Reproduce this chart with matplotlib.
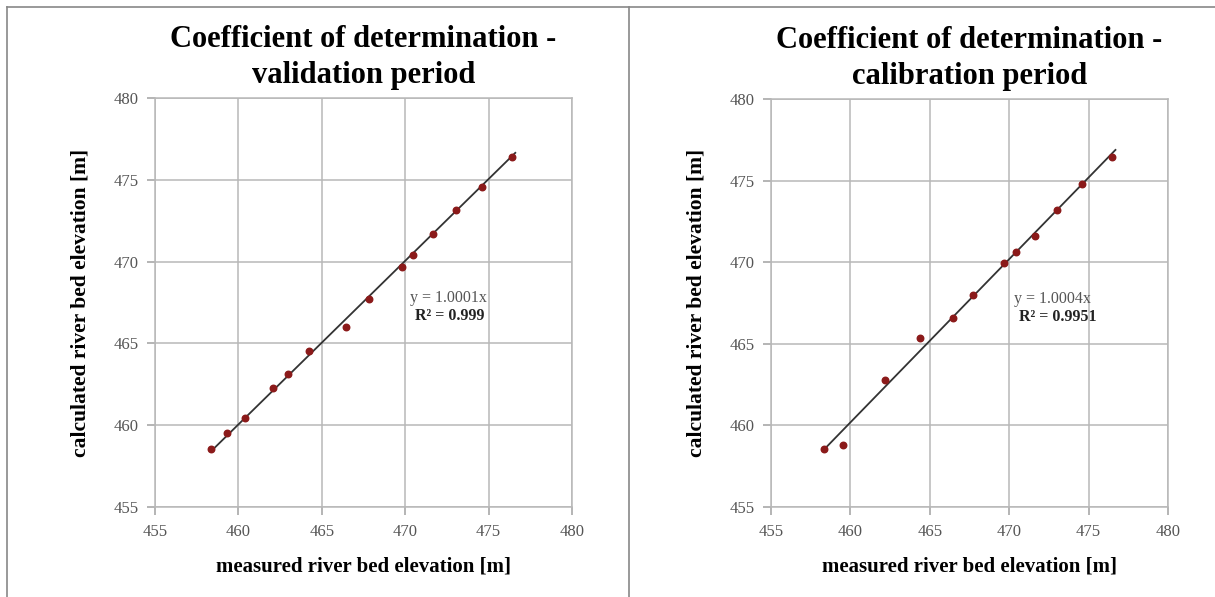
import matplotlib.pyplot as plt
from matplotlib.lines import Line2D

plt.rcParams["font.family"] = ["Liberation Serif", "DejaVu Serif"]

# validation period
val_measured = [458.34, 459.34, 460.40, 462.10, 463.00, 464.26, 466.44,
                467.83, 469.81, 470.45, 471.67, 473.03, 474.63, 476.40]
val_calculated = [458.53, 459.50, 460.42, 462.29, 463.11, 464.55, 466.02,
                  467.70, 469.65, 470.42, 471.67, 473.14, 474.58, 476.40]
val_slope = 1.0001
val_r2 = "0.999"

# calibration period
cal_measured = [458.31, 459.51, 462.16, 464.36, 466.45, 467.71, 469.70,
                470.42, 471.64, 473.03, 474.56, 476.49]
cal_calculated = [458.53, 458.77, 462.76, 465.36, 466.56, 468.00, 469.94,
                  470.61, 471.63, 473.19, 474.79, 476.46]
cal_slope = 1.0004
cal_r2 = "0.9951"

ticks = [455, 460, 465, 470, 475, 480]

fig = plt.figure(figsize=(12.15, 5.97), dpi=100)

# outer frame lines of the original screenshot
fig.add_artist(Line2D([7 / 1215, 1], [1 - 7 / 597, 1 - 7 / 597], color="#888888", lw=1.2))
fig.add_artist(Line2D([7 / 1215, 7 / 1215], [0, 1 - 7 / 597], color="#888888", lw=1.2))
fig.add_artist(Line2D([629 / 1215, 629 / 1215], [0, 1 - 7 / 597], color="#888888", lw=1.2))


def panel(rect, xs, ys, slope, r2, title):
    ax = fig.add_axes(rect)
    ax.set_xlim(455, 480)
    ax.set_ylim(455, 480)
    ax.set_xticks(ticks)
    ax.set_yticks(ticks)
    ax.grid(True, color="#b8b8b8", lw=1.1)
    ax.set_axisbelow(True)
    for s in ax.spines.values():
        s.set_color("#b8b8b8")
        s.set_linewidth(1.1)
    ax.tick_params(direction="out", length=6, width=1.1, color="#a0a0a0",
                   labelsize=12, labelcolor="#555555", pad=6)
    x0, x1 = min(xs), max(xs)
    ax.plot([x0, x1 + 0.2], [slope * x0, slope * (x1 + 0.2)], color="#333333", lw=1.3, zorder=2)
    ax.scatter(xs, ys, s=22, color="#8b1a1a", zorder=3)
    ax.text(470.3, 467.5, "y = %sx" % slope, fontsize=11.5, color="#555555")
    ax.text(470.6, 466.4, "R² = %s" % r2, fontsize=11.5, fontweight="bold", color="#222222")
    ax.set_title(title, fontsize=22, fontweight="bold", pad=11, linespacing=1.3)
    ax.set_xlabel("measured river bed elevation [m]", fontsize=15, fontweight="bold", labelpad=12)
    ax.set_ylabel("calculated river bed elevation [m]", fontsize=15.5, fontweight="bold", labelpad=16)
    return ax


panel([155 / 1215, 1 - 507 / 597, 417 / 1215, 409 / 597], val_measured, val_calculated,
      val_slope, val_r2, "Coefficient of determination -\nvalidation period")
panel([771 / 1215, 1 - 507 / 597, 397 / 1215, 408 / 597], cal_measured, cal_calculated,
      cal_slope, cal_r2, "Coefficient of determination -\ncalibration period")

fig.savefig("out.png", dpi=100)
